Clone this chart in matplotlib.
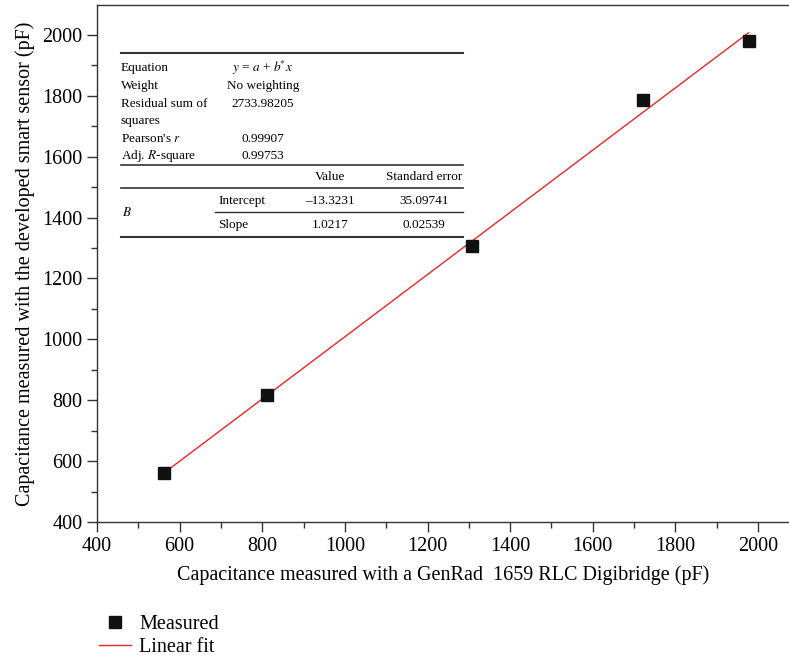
import numpy as np
import matplotlib.pyplot as plt
from matplotlib.ticker import MultipleLocator

plt.rcParams['font.family'] = ['Liberation Serif', 'DejaVu Serif']
plt.rcParams['mathtext.fontset'] = 'stix'

# measured points
x_ref = [563, 812, 1308, 1722, 1977]
y_sensor = [560, 818, 1305, 1787, 1980]

# fit parameters
intercept = -13.3231
slope = 1.0217
intercept_err = 35.09741
slope_err = 0.02539
rss = 2733.98205
pearson_r = 0.99907
adj_r2 = 0.99753

fig = plt.figure(figsize=(7.89, 6.61), dpi=100)
ax = fig.add_axes([97 / 789, 1 - 522 / 661, (789 - 97) / 789, (522 - 5) / 661])

xf = np.array([x_ref[0], x_ref[-1]])
ax.plot(xf, intercept + slope * xf, color='#e8262a', lw=1.0, label='Linear fit', zorder=2)
ax.plot(x_ref, y_sensor, 's', color='#111111', ms=9, ls='none', label='Measured', zorder=3)

ax.set_xlim(400, 2075)
ax.set_ylim(400, 2098)
ax.xaxis.set_major_locator(MultipleLocator(200))
ax.xaxis.set_minor_locator(MultipleLocator(100))
ax.yaxis.set_major_locator(MultipleLocator(200))
ax.yaxis.set_minor_locator(MultipleLocator(100))
ax.tick_params(which='major', direction='out', length=7, width=1, labelsize=14.5, color='#333333')
ax.tick_params(which='minor', direction='out', length=4, width=1, color='#333333')
ax.spines['right'].set_visible(False)
for s in ['left', 'bottom', 'top']:
    ax.spines[s].set_color('#333333')
    ax.spines[s].set_linewidth(1.0)

ax.set_xlabel('Capacitance measured with a GenRad  1659 RLC Digibridge (pF)', fontsize=14.5, labelpad=7)
ax.set_ylabel('Capacitance measured with the developed smart sensor (pF)', fontsize=14.5, labelpad=5)

# fit summary table (figure pixel coords)
def px(x, y):
    return x / 789, 1 - y / 661

def hline(y, x0, x1, lw=1.2):
    fig.add_artist(plt.Line2D([x0 / 789, x1 / 789], [1 - y / 661, 1 - y / 661],
                              color='#333333', lw=lw))

fs = 9.5
hline(53, 121, 463, 1.5)
hline(165, 121, 463, 1.2)
hline(188, 121, 463, 1.2)
hline(212, 215, 463, 1.0)
hline(237, 121, 463, 1.5)

rows = [
    (68, 'Equation', r'$y$ = $a$ + $b$$^{*}$$x$'),
    (86, 'Weight', 'No weighting'),
    (104, 'Residual sum of', f'{rss:.5f}'),
    (121, 'squares', ''),
    (139, r"Pearson's $r$", f'{pearson_r:.5f}'),
    (156, r'Adj. $R$-square', f'{adj_r2:.5f}'),
]
for y, lab, val in rows:
    fig.text(*px(121, y), lab, fontsize=fs, va='center', ha='left')
    if val:
        fig.text(*px(263, y), val, fontsize=fs, va='center', ha='center')

fig.text(*px(330, 177), 'Value', fontsize=fs, va='center', ha='center')
fig.text(*px(424, 177), 'Standard error', fontsize=fs, va='center', ha='center')
fig.text(*px(122, 213), r'$B$', fontsize=fs, va='center', ha='left')
fig.text(*px(218, 201), 'Intercept', fontsize=fs, va='center', ha='left')
fig.text(*px(330, 201), f'\u2013{abs(intercept):.4f}', fontsize=fs, va='center', ha='center')
fig.text(*px(424, 201), f'{intercept_err:.5f}', fontsize=fs, va='center', ha='center')
fig.text(*px(218, 225), 'Slope', fontsize=fs, va='center', ha='left')
fig.text(*px(330, 225), f'{slope:.4f}', fontsize=fs, va='center', ha='center')
fig.text(*px(424, 225), f'{slope_err:.5f}', fontsize=fs, va='center', ha='center')

# legend below the plot
h, l = ax.get_legend_handles_labels()
fig.legend(h[::-1], l[::-1], loc='upper left', bbox_to_anchor=(91 / 789, 1 - 607 / 661),
           frameon=False, fontsize=14.5, handlelength=1.6, handletextpad=0.4,
           labelspacing=0.2, borderaxespad=0)

fig.savefig('out.png', dpi=100)
